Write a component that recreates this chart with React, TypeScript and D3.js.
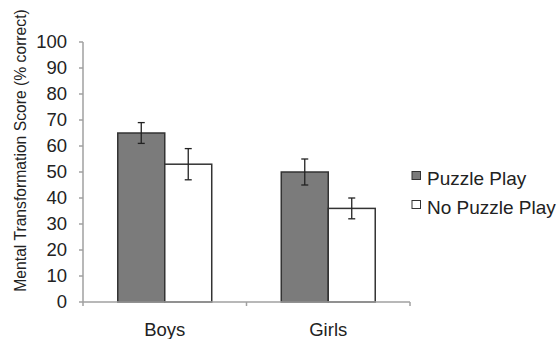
import React from "react";
import * as d3 from "d3";

const width = 559;
const height = 339;
const margin = { top: 42, right: 149, bottom: 37, left: 83 };

const groups = ["Boys", "Girls"];
const series = ["Puzzle Play", "No Puzzle Play"];
const puzzleValues = [65, 50];
const puzzleErrors = [4, 5];
const noPuzzleValues = [53, 36];
const noPuzzleErrors = [6, 4];
const yTicks = [0, 10, 20, 30, 40, 50, 60, 70, 80, 90, 100];

const fills = ["#7b7b7b", "#ffffff"];
const axisColor = "#a0a0a0";
const textColor = "#222";
const font = "Liberation Sans, Arial, sans-serif";

export default function App() {
  const x = d3
    .scaleBand()
    .domain(groups)
    .range([margin.left, width - margin.right]);
  const inner = d3
    .scaleBand()
    .domain(series)
    .range([0, x.bandwidth()])
    .paddingInner(0)
    .paddingOuter(0.74);
  const y = d3
    .scaleLinear()
    .domain([0, 100])
    .range([height - margin.bottom, margin.top]);

  const bars = groups.flatMap((g, i) => [
    { g, s: series[0], v: puzzleValues[i], e: puzzleErrors[i], fill: fills[0] },
    { g, s: series[1], v: noPuzzleValues[i], e: noPuzzleErrors[i], fill: fills[1] },
  ]);

  const x0 = margin.left;
  const x1 = width - margin.right;
  const yBase = y(0);

  return (
    <svg
      width={width}
      height={height}
      style={{ position: "absolute", left: 0, top: 0, background: "#fff" }}
      fontFamily={font}
    >
      {/* y axis */}
      <line x1={x0} x2={x0} y1={y(100)} y2={yBase} stroke={axisColor} strokeWidth={1.5} />
      {yTicks.map((t) => (
        <g key={t}>
          <line x1={x0 - 4} x2={x0} y1={y(t)} y2={y(t)} stroke={axisColor} strokeWidth={1.5} />
          <text
            x={x0 - 16}
            y={y(t)}
            dy="0.35em"
            textAnchor="end"
            fontSize={18.5}
            fill={textColor}
          >
            {t}
          </text>
        </g>
      ))}

      {/* bars */}
      {bars.map((b, i) => {
        const bx = (x(b.g) as number) + (inner(b.s) as number);
        const bw = inner.bandwidth();
        const cx = bx + bw / 2;
        return (
          <g key={i}>
            <rect
              x={bx}
              y={y(b.v)}
              width={bw}
              height={yBase - y(b.v)}
              fill={b.fill}
              stroke="#333"
              strokeWidth={1.5}
            />
            <line x1={cx} x2={cx} y1={y(b.v + b.e)} y2={y(b.v - b.e)} stroke="#222" strokeWidth={1.3} />
            <line x1={cx - 3.5} x2={cx + 3.5} y1={y(b.v + b.e)} y2={y(b.v + b.e)} stroke="#222" strokeWidth={1.3} />
            <line x1={cx - 3.5} x2={cx + 3.5} y1={y(b.v - b.e)} y2={y(b.v - b.e)} stroke="#222" strokeWidth={1.3} />
          </g>
        );
      })}

      {/* x axis */}
      <line x1={x0} x2={x1} y1={yBase} y2={yBase} stroke={axisColor} strokeWidth={1.5} />
      {[x0, ...groups.map((g) => (x(g) as number) + x.bandwidth())].map((tx, i) => (
        <line key={i} x1={tx} x2={tx} y1={yBase} y2={yBase + 4} stroke={axisColor} strokeWidth={1.5} />
      ))}
      {groups.map((g) => (
        <text
          key={g}
          x={(x(g) as number) + x.bandwidth() / 2}
          y={336}
          textAnchor="middle"
          fontSize={18.5}
          fill={textColor}
        >
          {g}
        </text>
      ))}

      {/* y title */}
      <text
        transform={`translate(26, 150.5) rotate(-90)`}
        textAnchor="middle"
        fontSize={15.7}
        fill={textColor}
      >
        Mental Transformation Score (% correct)
      </text>

      {/* legend */}
      {series.map((s, i) => (
        <g key={s} transform={`translate(412, ${171.5 + i * 29})`}>
          <rect x={0} y={0} width={8.5} height={8} fill={fills[i]} stroke="#333" strokeWidth={1} />
          <text x={15} y={13.5} fontSize={19} fill={textColor}>
            {s}
          </text>
        </g>
      ))}
    </svg>
  );
}
